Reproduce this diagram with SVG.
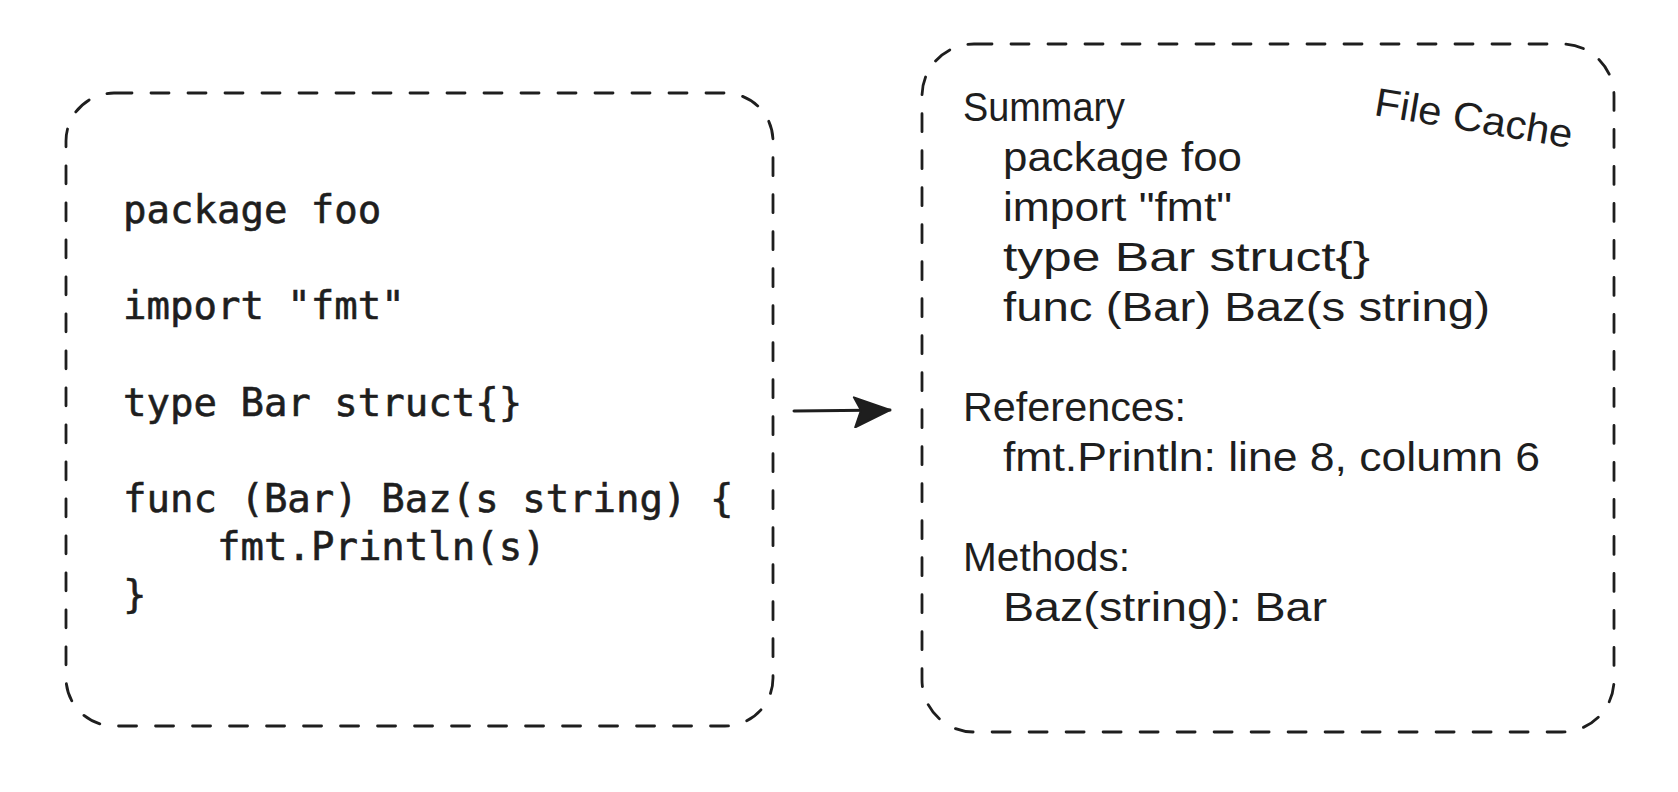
<svg xmlns="http://www.w3.org/2000/svg" width="1678" height="792" viewBox="0 0 1678 792">
  <style>
    .box { fill: none; stroke: #1e1e1e; stroke-width: 2.8; stroke-dasharray: 18 19; stroke-linecap: round; }
    .code { font-family: "DejaVu Sans Mono", "Liberation Mono", monospace; font-size: 39px; fill: #1e1e1e; stroke: #1e1e1e; stroke-width: 0.6; }
    .hand { font-family: "Liberation Sans", "Noto Sans", sans-serif; font-size: 40px; fill: #1e1e1e; }
    .conn { fill: none; stroke: #1e1e1e; stroke-width: 3; stroke-linecap: round; }
  </style>
  <defs>
    <marker id="arrowhead" markerUnits="userSpaceOnUse" viewBox="0 0 40 32" markerWidth="40" markerHeight="32" refX="38" refY="14" orient="auto">
      <path d="M2,1 L38,14 L3,31 L9,14 Z" fill="#1e1e1e" stroke="#1e1e1e" stroke-width="2" stroke-linejoin="round"/>
    </marker>
  </defs>
  <rect width="1678" height="792" fill="#ffffff"/>

  <g id="source-file">
    <rect class="box" x="66" y="93" width="707" height="633" rx="48" ry="48"/>
    <text class="code" x="123" y="223">package foo</text>
    <text class="code" x="123" y="319">import "fmt"</text>
    <text class="code" x="123" y="416">type Bar struct{}</text>
    <text class="code" x="123" y="512">func (Bar) Baz(s string) {</text>
    <text class="code" x="217" y="560">fmt.Println(s)</text>
    <text class="code" x="123" y="608">}</text>
  </g>

  <g id="file-cache">
    <rect class="box" x="922" y="44" width="692" height="688" rx="52" ry="52"/>
    <text class="hand" x="1373" y="115" transform="rotate(9.5 1373 115)" textLength="200" lengthAdjust="spacingAndGlyphs">File Cache</text>
    <text class="hand" x="963" y="121" textLength="162" lengthAdjust="spacingAndGlyphs">Summary</text>
    <text class="hand" x="1003" y="171" textLength="239" lengthAdjust="spacingAndGlyphs">package foo</text>
    <text class="hand" x="1003" y="221" textLength="229" lengthAdjust="spacingAndGlyphs">import "fmt"</text>
    <text class="hand" x="1003" y="271" textLength="367" lengthAdjust="spacingAndGlyphs">type Bar struct{}</text>
    <text class="hand" x="1003" y="321" textLength="487" lengthAdjust="spacingAndGlyphs">func (Bar) Baz(s string)</text>
    <text class="hand" x="963" y="421" textLength="223" lengthAdjust="spacingAndGlyphs">References:</text>
    <text class="hand" x="1003" y="471" textLength="537" lengthAdjust="spacingAndGlyphs">fmt.Println: line 8, column 6</text>
    <text class="hand" x="963" y="571" textLength="167" lengthAdjust="spacingAndGlyphs">Methods:</text>
    <text class="hand" x="1003" y="621" textLength="324" lengthAdjust="spacingAndGlyphs">Baz(string): Bar</text>
  </g>

  <g id="connectors">
    <path class="conn" d="M794,411 L890,410" marker-end="url(#arrowhead)"/>
  </g>
</svg>
